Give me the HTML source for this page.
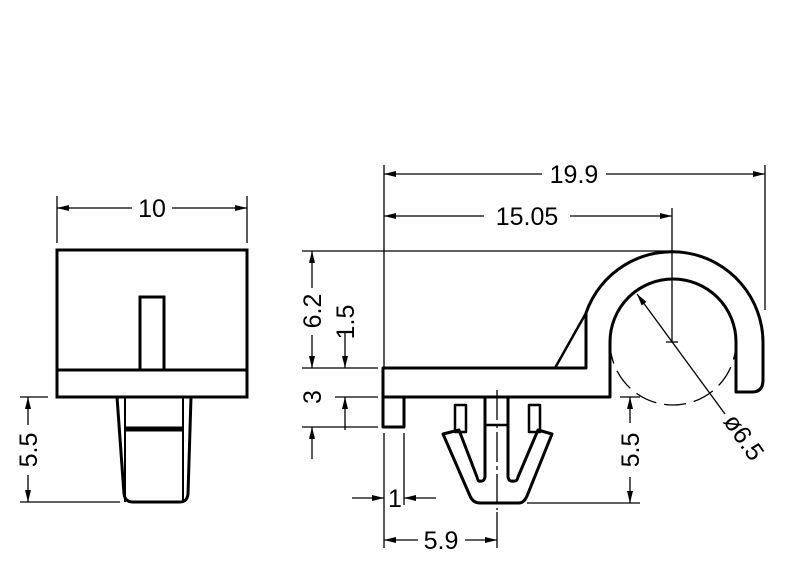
<!DOCTYPE html>
<html><head><meta charset="utf-8"><style>html,body{margin:0;padding:0;background:#fff}svg{display:block}</style></head><body>
<svg width="800" height="576" viewBox="0 0 800 576" xmlns="http://www.w3.org/2000/svg">
<defs>
<marker id="a" viewBox="0 0 12 6" refX="12" refY="3" markerWidth="12" markerHeight="6" orient="auto-start-reverse" markerUnits="userSpaceOnUse"><path d="M0,0 L12,3 L0,6 Z" fill="#000"/></marker>
</defs>
<g font-family="Liberation Sans, sans-serif" font-size="25" fill="#000">
<!-- LEFT VIEW -->
<g fill="none" stroke="#000" stroke-width="3">
<rect x="57" y="250" width="190" height="147"/>
<line x1="57" y1="370" x2="247" y2="370"/>
<rect x="140" y="297" width="24" height="73"/>
<path d="M117,397 L124,494 Q125,502 133,502 L180,502 Q187,502 188,494 L191,397"/>
<path d="M125,397 L125,502" stroke-width="2"/>
<path d="M183,397 L183,502" stroke-width="2"/>
<line x1="125" y1="429" x2="183" y2="429" stroke-width="5"/>
</g>
<g stroke="#000" stroke-width="1.3" fill="none">
<line x1="57" y1="196" x2="57" y2="243"/><line x1="247" y1="196" x2="247" y2="243"/>
<line x1="57" y1="208" x2="132" y2="208" marker-start="url(#a)"/>
<line x1="172" y1="208" x2="247" y2="208" marker-end="url(#a)"/>
<line x1="20" y1="397" x2="48" y2="397"/><line x1="20" y1="502" x2="120" y2="502"/>
<line x1="28" y1="397" x2="28" y2="425" marker-start="url(#a)"/>
<line x1="28" y1="475" x2="28" y2="502" marker-end="url(#a)"/>
</g>
<text x="152" y="217" text-anchor="middle">10</text>
<text transform="translate(37,450) rotate(-90)" text-anchor="middle">5.5</text>

<!-- RIGHT VIEW -->
<g fill="none" stroke="#000" stroke-width="3" stroke-linejoin="round">
<path d="M383,368 L586,368 L586,313 A91,91 0 0 1 763,342 L763,380 Q763,392 752,392 L736,392 L736,342 A63,63 0 0 0 610,342 L610,397 L383,397 Z"/>
<line x1="555" y1="368" x2="586" y2="313" stroke-width="2.5"/>
<rect x="383" y="397" width="21" height="30"/>
<rect x="455" y="405" width="11" height="27" stroke-width="2.5"/>
<rect x="529" y="405" width="11" height="27" stroke-width="2.5"/>
<path d="M485,397 L485,477 Q484,482 480,481 Q478,482 477,477 L459,430 L443,434 L470,496 Q473,503 480,503 L519,503 Q524,503 527,496 L552,434 L538,430 L518,477 Q517,482 513,481 Q509,482 508,477 L508,397"/>
<line x1="485" y1="425" x2="508" y2="425" stroke-width="2.5"/>
</g>
<path d="M610,342 A63,63 0 0 0 736,342" fill="none" stroke="#000" stroke-width="1.3" stroke-dasharray="22,8"/>
<g stroke="#000" stroke-width="1.3" fill="none">
<line x1="497" y1="390" x2="497" y2="510" stroke-dasharray="30,4,4,4"/>
<line x1="666" y1="342" x2="678" y2="342"/>
<line x1="384" y1="165" x2="384" y2="368"/>
<line x1="765" y1="165" x2="765" y2="310"/>
<line x1="384" y1="174" x2="542" y2="174" marker-start="url(#a)"/>
<line x1="606" y1="174" x2="765" y2="174" marker-end="url(#a)"/>
<line x1="672" y1="208" x2="672" y2="342"/>
<line x1="384" y1="216" x2="484" y2="216" marker-start="url(#a)"/>
<line x1="570" y1="216" x2="672" y2="216" marker-end="url(#a)"/>
<line x1="302" y1="251" x2="672" y2="251"/>
<line x1="302" y1="368" x2="378" y2="368"/>
<line x1="335" y1="397" x2="378" y2="397"/>
<line x1="302" y1="427" x2="378" y2="427"/>
<line x1="312" y1="251" x2="312" y2="288" marker-start="url(#a)"/>
<line x1="312" y1="335" x2="312" y2="368" marker-end="url(#a)"/>
<line x1="345" y1="333" x2="345" y2="368" marker-end="url(#a)"/>
<line x1="345" y1="397" x2="345" y2="430" marker-start="url(#a)"/>
<line x1="312" y1="427" x2="312" y2="459" marker-start="url(#a)"/>
<line x1="384" y1="433" x2="384" y2="548"/>
<line x1="404" y1="433" x2="404" y2="505"/>
<line x1="352" y1="498" x2="384" y2="498" marker-end="url(#a)"/>
<line x1="404" y1="498" x2="436" y2="498" marker-start="url(#a)"/>
<line x1="497" y1="512" x2="497" y2="548"/>
<line x1="384" y1="540" x2="418" y2="540" marker-start="url(#a)"/>
<line x1="465" y1="540" x2="497" y2="540" marker-end="url(#a)"/>
<line x1="620" y1="397" x2="640" y2="397"/>
<line x1="527" y1="503" x2="640" y2="503"/>
<line x1="630" y1="397" x2="630" y2="423" marker-start="url(#a)"/>
<line x1="630" y1="477" x2="630" y2="503" marker-end="url(#a)"/>
<line x1="637" y1="294" x2="725" y2="414" marker-start="url(#a)"/>
</g>
<text x="574" y="183" text-anchor="middle">19.9</text>
<text x="527" y="225" text-anchor="middle">15.05</text>
<text transform="translate(321,311) rotate(-90)" text-anchor="middle">6.2</text>
<text transform="translate(354,322) rotate(-90)" text-anchor="middle">1.5</text>
<text transform="translate(321,397) rotate(-90)" text-anchor="middle">3</text>
<text x="395" y="507" text-anchor="middle">1</text>
<text x="441" y="549" text-anchor="middle">5.9</text>
<text transform="translate(639,450) rotate(-90)" text-anchor="middle">5.5</text>
<text transform="translate(737,442) rotate(55)" text-anchor="middle">ø6.5</text>
</g>
</svg>
</body></html>
